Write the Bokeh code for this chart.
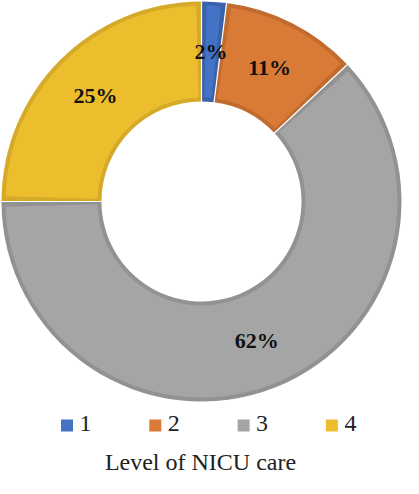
import numpy as np
from bokeh.plotting import figure
from bokeh.models import ColumnDataSource, Range1d
from bokeh.core.properties import value
from bokeh.embed import file_html
from bokeh.resources import INLINE

# ---- data ----
categories = ["1", "2", "3", "4"]
percents = [2, 11, 62, 25]
pct_labels = ["2%", "11%", "62%", "25%"]
fill_colors = ["#4472C4", "#D97B36", "#A5A5A5", "#ECBE2E"]
edge_colors = ["#3A62AC", "#C26B2E", "#929292", "#D5AA28"]
title_text = "Level of NICU care"

# ---- layout ----
W, H = 403, 478
p = figure(width=W, height=H, x_range=Range1d(0, W), y_range=Range1d(0, H),
           output_backend="svg", toolbar_location=None, min_border=0,
           x_axis_location=None, y_axis_location=None)
p.xgrid.grid_line_color = None
p.ygrid.grid_line_color = None
p.outline_line_color = None
p.background_fill_color = "white"
p.border_fill_color = "white"

cx, cy = 201, H - 201
R_out, R_in, edge = 200, 100, 4
R_lab = (R_out + R_in) / 2

frac = np.array(percents, dtype=float) / sum(percents)
cum_end = np.cumsum(frac) * 2 * np.pi
cum_start = cum_end - frac * 2 * np.pi
start = np.pi / 2 - cum_end
end = np.pi / 2 - cum_start
mid = (start + end) / 2
dang = edge / R_lab

src = ColumnDataSource(dict(
    cat=categories, pct=percents, label=pct_labels,
    fill=fill_colors, edge=edge_colors,
    start=start, end=end,
    start_in=start + dang, end_in=end - dang,
    lx=cx + R_lab * np.cos(mid), ly=cy + R_lab * np.sin(mid),
))

# darker outer wedges (border colour)
p.annular_wedge(x=cx, y=cy, inner_radius=R_in, outer_radius=R_out,
                start_angle="start", end_angle="end",
                fill_color="edge", line_color=None, source=src)
# lighter inner wedges (fill colour)
p.annular_wedge(x=cx, y=cy, inner_radius=R_in + edge, outer_radius=R_out - edge,
                start_angle="start_in", end_angle="end_in",
                fill_color="fill", line_color=None, source=src)
# thin white separators
p.ray(x=cx, y=cy, length=R_out + 2, angle="end", line_color="white",
      line_width=1.2, source=src)

# percentage labels
p.text(x="lx", y="ly", text="label", source=src,
       text_font=value("Liberation Serif"), text_font_style="bold",
       text_font_size="22px", text_align="center", text_baseline="middle",
       text_color="#111111")

# legend (manual, horizontal)
n = len(categories)
leg_x0, leg_dx = 66.5, 88.3
leg_y = H - 425
leg_src = ColumnDataSource(dict(
    x=[leg_x0 + i * leg_dx for i in range(n)],
    tx=[leg_x0 + i * leg_dx + 12.5 for i in range(n)],
    y=[leg_y] * n,
    ty=[leg_y + 2.5] * n,
    cat=categories, fill=fill_colors,
))
p.scatter(x="x", y="y", marker="square", size=12, fill_color="fill",
          line_color=None, source=leg_src)
p.text(x="tx", y="ty", text="cat", source=leg_src,
       text_font=value("Liberation Serif"), text_font_size="24px",
       text_align="left", text_baseline="middle", text_color="#222222")

# bottom title
p.text(x=[200], y=[17], text=[title_text],
       text_font=value("Liberation Serif"), text_font_size="24px",
       text_align="center", text_baseline="middle", text_color="#222222")

open("out.html", "w").write(file_html(p, INLINE))
